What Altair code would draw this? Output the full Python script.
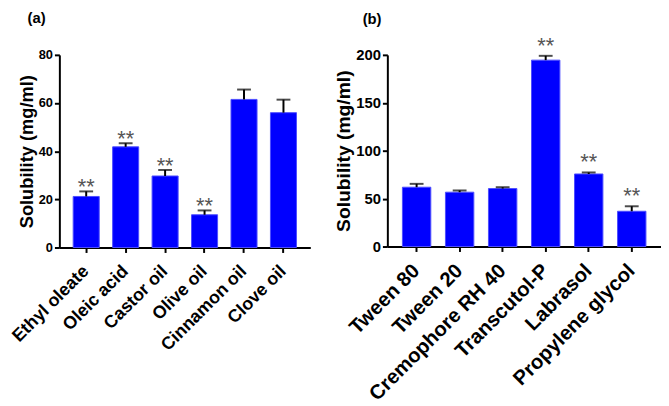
import altair as alt
import pandas as pd

FONT = "Liberation Sans"

# Panel (a): oils
oils = ["Ethyl oleate", "Oleic acid", "Castor oil", "Olive oil", "Cinnamon oil", "Clove oil"]
oil_sol = [21.2, 41.8, 29.7, 13.6, 61.5, 56.0]
oil_err = [2.1, 1.5, 2.5, 1.8, 4.1, 5.4]
oil_sig = ["**", "**", "**", "**", "", ""]

# Panel (b): surfactants / co-surfactants
surf = ["Tween 80", "Tween 20", "Cremophore RH 40", "Transcutol-P", "Labrasol", "Propylene glycol"]
surf_sol = [61.9, 56.7, 60.5, 194.5, 75.7, 36.8]
surf_err = [3.5, 1.8, 1.4, 4.5, 1.6, 5.2]
surf_sig = ["", "", "", "**", "**", "**"]

y_ticks_a = [0, 20, 40, 60, 80]
y_ticks_b = [0, 50, 100, 150, 200]


def panel(cats, vals, errs, sig, ymax, yticks, label, w, h, tick_fs, lab_fs,
          title_fs, title_offset, title_dx, star_dy, y_title_pad, lab_pad):
    df = pd.DataFrame({
        "cat": cats,
        "val": vals,
        "top": [v + e for v, e in zip(vals, errs)],
        "sig": sig,
    })
    base = alt.Chart(df)
    xscale = alt.Scale(paddingInner=0.34, paddingOuter=0.35)
    x = alt.X("cat:N", sort=None, title=None, scale=xscale,
              axis=alt.Axis(labelAngle=-45, labelAlign="right", labelBaseline="middle",
                            labelFont=FONT, labelFontSize=lab_fs,
                            labelFontWeight="bold", labelColor="black",
                            domainColor="black", domainWidth=2, tickColor="black",
                            tickWidth=2, tickSize=5, labelPadding=lab_pad, grid=False,
                            labelLimit=400))
    y = alt.Y("val:Q", scale=alt.Scale(domain=[0, ymax], nice=False, zero=True),
              axis=alt.Axis(values=yticks, title="Solubility (mg/ml)",
                            titleFont=FONT, titleFontSize=title_fs, titleFontWeight="bold",
                            titleColor="black", titlePadding=y_title_pad,
                            labelFont=FONT, labelFontSize=tick_fs, labelFontWeight="bold",
                            labelColor="black", grid=False, domainColor="black",
                            domainWidth=2, tickColor="black", tickWidth=2, tickSize=5,
                            labelPadding=2))
    bars = base.mark_bar(color="#0000FF", stroke="#4d4dff", strokeWidth=1).encode(x=x, y=y)
    rule = base.mark_rule(color="black", strokeWidth=2).encode(
        x=alt.X("cat:N", sort=None, scale=xscale), y="val:Q", y2="top:Q")
    cap = base.mark_tick(color="black", thickness=2, size=14, orient="horizontal").encode(
        x=alt.X("cat:N", sort=None, scale=xscale), y="top:Q")
    stars = base.mark_text(font=FONT, fontSize=22, color="#555555",
                           baseline="alphabetic", dy=star_dy).encode(
        x=alt.X("cat:N", sort=None, scale=xscale), y="top:Q", text="sig:N")
    return alt.layer(bars, rule, cap, stars).properties(
        width=w, height=h,
        title=alt.TitleParams(label, anchor="start", font=FONT, fontSize=15,
                              fontWeight="bold", color="black", offset=title_offset,
                              dx=title_dx))


pa = panel(oils, oil_sol, oil_err, oil_sig, 80, y_ticks_a, "(a)", 254, 195,
           13, 18, 18.5, 23.5, 19, 3, 2, 16)
pb = panel(surf, surf_sol, surf_err, surf_sig, 200, y_ticks_b, "(b)", 277, 194,
           15, 20.5, 19.5, 8.5, 29, -3, 2, 16)

chart = alt.hconcat(pa, pb, spacing=23).properties(
    padding={"left": 0, "top": 0, "right": 0, "bottom": 0}
).configure_view(stroke=None)

chart.save("out.html", embed_options={"renderer": "svg", "actions": False})
